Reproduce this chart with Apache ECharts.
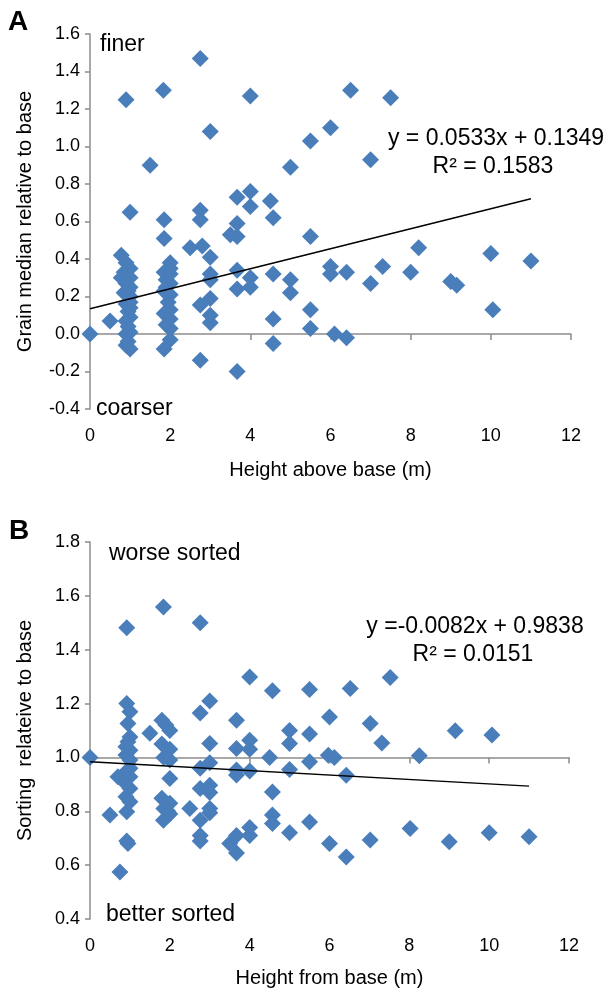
<!DOCTYPE html>
<html>
<head>
<meta charset="utf-8">
<script src="https://cdn.jsdelivr.net/npm/echarts@6/dist/echarts.min.js"></script>
<style>
    html, body { margin: 0; padding: 0; background: #fff; }
    .chart1 { width: 610px; height: 994px; }
</style>
</head>
<body>
<div class="chart1"></div>
<script>
// panel A: grain median relative to base vs height above base (m)
var heightA = [0, 0.5, 0.9, 1.0, 1.5, 1.83, 1.85, 1.85, 2.5, 2.75, 2.75, 2.75, 2.8, 3.0, 3.0, 3.0, 3.0, 2.75, 3.0, 3.0, 3.0, 2.75,
    3.5, 3.67, 3.67, 3.67, 3.67, 3.67, 3.67, 4.0, 4.0, 4.0, 4.0, 4.0, 4.5, 4.57, 4.57, 4.57, 4.57, 5.0, 5.0, 5.0,
    5.5, 5.5, 5.5, 5.5, 6.0, 6.0, 6.0, 6.1, 6.4, 6.4, 6.5, 7.0, 7.0, 7.3, 7.5, 8.0, 8.2, 9.0, 9.15, 10.0, 10.05, 11.0,
    0.78, 0.9, 1.0, 0.85, 0.78, 1.0, 0.9, 1.0, 0.95, 0.85, 1.0, 1.0, 0.9, 1.0, 0.95, 1.0, 0.9, 0.95, 1.0, 0.9, 0.95, 0.9, 1.0,
    2.0, 2.0, 1.85, 2.0, 1.9, 2.0, 1.9, 1.85, 2.0, 1.95, 2.0, 1.85, 2.0, 1.9, 2.0, 2.0, 1.85];
var grainA = [0, 0.07, 1.25, 0.65, 0.90, 1.30, 0.61, 0.51, 0.46, 1.47, 0.66, 0.61, 0.47, 1.08, 0.41, 0.32, 0.29, 0.155, 0.19, 0.10, 0.06, -0.14,
    0.53, 0.52, 0.59, 0.73, 0.34, 0.24, -0.20, 1.27, 0.76, 0.68, 0.30, 0.25, 0.71, 0.62, 0.32, 0.08, -0.05, 0.89, 0.29, 0.22,
    1.03, 0.52, 0.13, 0.03, 1.10, 0.36, 0.32, 0.0, 0.33, -0.02, 1.30, 0.93, 0.27, 0.36, 1.26, 0.33, 0.46, 0.28, 0.26, 0.43, 0.13, 0.39,
    0.42, 0.38, 0.35, 0.33, 0.30, 0.30, 0.27, 0.25, 0.23, 0.22, 0.20, 0.17, 0.16, 0.14, 0.12, 0.09, 0.07, 0.04, 0.01, 0.0, -0.04, -0.06, -0.08,
    0.38, 0.35, 0.33, 0.32, 0.29, 0.27, 0.25, 0.23, 0.21, 0.17, 0.13, 0.11, 0.08, 0.05, 0.03, -0.03, -0.08];
var fitA = [0.0533, 0.1349];

// panel B: sorting relative to base vs height from base (m)
var heightB = [0, 0.5, 0.75, 0.92, 0.92, 0.95, 1.5, 1.84, 2.5, 2.76, 2.76, 3.0, 3.0, 2.76, 3.0, 2.76, 3.0, 3.0, 3.0, 3.0, 2.76, 2.76, 2.76,
    3.67, 3.67, 4.0, 4.0, 3.67, 3.67, 4.0, 3.5, 3.67, 3.67, 4.0, 4.0, 4.0, 4.5, 4.57, 4.57, 4.57, 4.57, 5.0, 5.0, 5.0, 5.0,
    5.5, 5.5, 5.5, 5.5, 6.0, 5.97, 6.12, 6.0, 6.42, 6.42, 6.52, 7.02, 7.02, 7.31, 7.52, 8.02, 8.25, 9.0, 9.15, 10.0, 10.07, 11.0,
    0.92, 1.0, 0.95, 1.0, 0.95, 0.9, 1.0, 0.9, 1.0, 1.0, 0.95, 0.7, 1.0, 0.8, 0.85, 1.0, 0.9, 1.0, 0.92,
    1.8, 1.9, 2.0, 1.8, 2.0, 1.85, 2.0, 2.0, 1.8, 2.0, 1.85, 1.95, 2.0, 1.84];
var sortB = [1.0, 0.786, 0.575, 1.482, 0.69, 0.68, 1.09, 1.559, 0.81, 1.50, 1.165, 1.21, 1.052, 0.96, 0.98, 0.885, 0.897, 0.87, 0.81, 0.795, 0.767, 0.71, 0.69,
    1.138, 1.033, 1.064, 1.03, 0.953, 0.935, 0.95, 0.68, 0.71, 0.645, 0.74, 0.71, 1.299, 1.0, 1.248, 0.872, 0.786, 0.755, 1.10, 1.052, 0.955, 0.72,
    1.252, 1.087, 0.984, 0.76, 1.15, 1.008, 1.0, 0.68, 0.934, 0.63, 1.256, 1.126, 0.693, 1.054, 1.297, 0.736, 1.006, 0.687, 1.099, 0.72, 1.083, 0.705,
    1.20, 1.17, 1.126, 1.076, 1.058, 1.04, 1.027, 1.009, 0.99, 0.96, 0.953, 0.928, 0.928, 0.93, 0.91, 0.885, 0.854, 0.835, 0.798,
    1.138, 1.12, 1.10, 1.05, 1.03, 1.0, 0.99, 0.922, 0.848, 0.83, 0.81, 0.80, 0.79, 0.767];
var fitB = [-0.0082, 0.9838];

var fitEnd = 11;
var xTicks = [0, 12, 2];          // min, max, step
var yTicksA = [-0.4, 1.6, 0.2];
var yTicksB = [0.4, 1.8, 0.2];

var FONT = "'Liberation Sans', Arial, sans-serif";
var BLUE = '#4A7EBB';
var AXIS = '#8c8c8c';

function pairs(xs, ys) {
    var out = [];
    for (var i = 0; i < Math.min(xs.length, ys.length); i++) out.push([xs[i], ys[i]]);
    return out;
}
function fitLine(fit) {
    return [[0, fit[1]], [fitEnd, +(fit[0] * fitEnd + fit[1]).toFixed(4)]];
}

var myChart1;
function initChart1() {
    var chartDom = document.querySelector('.chart1');
    myChart1 = echarts.init(chartDom);
    var option;

    var tickLabel = { fontFamily: FONT, fontSize: 18, color: '#000' };
    var lineAxis = function (grid, yIdx) {
        return {
            type: 'value', gridIndex: grid, min: xTicks[0], max: xTicks[1], interval: xTicks[2],
            axisLine: { show: true, onZero: true, onZeroAxisIndex: yIdx, lineStyle: { color: AXIS, width: 1.5 } },
            axisTick: { show: true, length: 6, lineStyle: { color: AXIS, width: 1.5 } },
            axisLabel: { show: false },
            splitLine: { show: false }
        };
    };
    var labelAxis = function (grid, name, gap) {
        return {
            type: 'value', gridIndex: grid, position: 'bottom', min: xTicks[0], max: xTicks[1], interval: xTicks[2],
            axisLine: { show: false, onZero: false },
            axisTick: { show: false },
            axisLabel: Object.assign({ margin: 18 }, tickLabel),
            splitLine: { show: false },
            name: name, nameLocation: 'middle', nameGap: gap,
            nameTextStyle: { fontFamily: FONT, fontSize: 20, color: '#000' }
        };
    };
    var yAxisOf = function (grid, t, name) {
        return {
            type: 'value', gridIndex: grid, min: t[0], max: t[1], interval: t[2],
            axisLine: { show: true, onZero: false, lineStyle: { color: AXIS, width: 1.5 } },
            axisTick: { show: true, length: 5, lineStyle: { color: AXIS, width: 1.5 } },
            axisLabel: Object.assign({ margin: 10, formatter: function (v) { return v.toFixed(1); } }, tickLabel),
            splitLine: { show: false },
            name: name, nameLocation: 'middle', nameGap: 55,
            nameTextStyle: { fontFamily: FONT, fontSize: 20, color: '#000' }
        };
    };
    var scatter = function (xi, yi, data) {
        return {
            type: 'scatter', xAxisIndex: xi, yAxisIndex: yi, data: data,
            symbol: 'diamond', symbolSize: 17,
            itemStyle: { color: BLUE, opacity: 1 },
            silent: true, z: 2
        };
    };
    var trend = function (xi, yi, data) {
        return {
            type: 'line', xAxisIndex: xi, yAxisIndex: yi, data: data,
            symbol: 'none', lineStyle: { color: '#000', width: 1.4 },
            silent: true, z: 3
        };
    };
    var txt = function (x, y, text, size, align, bold) {
        return {
            type: 'text', x: x, y: y, silent: true,
            style: {
                text: text, fill: '#000', align: align || 'left', verticalAlign: 'middle',
                font: (bold ? 'bold ' : '') + size + 'px ' + FONT
            }
        };
    };

    option = {
        animation: false,
        grid: [
            { left: 90, top: 34, width: 481, height: 375, outerBoundsMode: 'none' },
            { left: 90, top: 542, width: 479, height: 377, outerBoundsMode: 'none' }
        ],
        xAxis: [
            lineAxis(0, 0),
            labelAxis(0, 'Height above base (m)', 51),
            lineAxis(1, 2),
            labelAxis(1, 'Height from base (m)', 49)
        ],
        yAxis: [
            yAxisOf(0, yTicksA, 'Grain median relative to base'),
            yAxisOf(1, yTicksB, 'Sorting  relateive to base'),
            // hidden helper so the panel B x-axis line sits at 1.0
            { type: 'value', gridIndex: 1, show: false, min: yTicksB[0] - 1, max: yTicksB[1] - 1 }
        ],
        series: [
            scatter(0, 0, pairs(heightA, grainA)),
            trend(0, 0, fitLine(fitA)),
            scatter(2, 1, pairs(heightB, sortB)),
            trend(2, 1, fitLine(fitB))
        ],
        graphic: [
            txt(8, 22, 'A', 28, 'left', true),
            txt(9, 531, 'B', 28, 'left', true),
            txt(100, 45, 'finer', 23),
            txt(96, 409, 'coarser', 23),
            txt(496, 139, 'y = 0.0533x + 0.1349', 23, 'center'),
            txt(493, 167, 'R² = 0.1583', 23, 'center'),
            txt(109, 554, 'worse sorted', 23),
            txt(106, 915, 'better sorted', 23),
            txt(475, 627, 'y =-0.0082x + 0.9838', 23, 'center'),
            txt(473, 655, 'R² = 0.0151', 23, 'center')
        ]
    };

    option && myChart1.setOption(option);
}

document.addEventListener('DOMContentLoaded', function () {
    initChart1();
});

window.addEventListener('resize', () => {
    myChart1.resize();
});
</script>
</body>
</html>
